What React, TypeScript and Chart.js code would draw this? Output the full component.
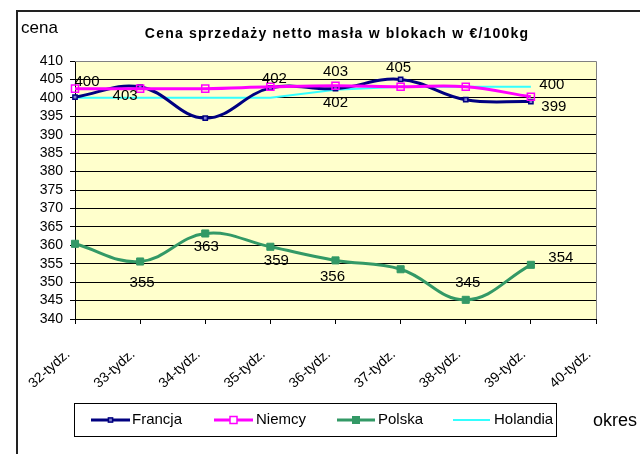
import React, { useEffect, useRef } from "react";
import { Chart, registerables } from "chart.js";

Chart.register(...registerables);

const categories = ["32-tydz.", "33-tydz.", "34-tydz.", "35-tydz.", "36-tydz.", "37-tydz.", "38-tydz.", "39-tydz.", "40-tydz."];
const seriesNames = ["Francja", "Niemcy", "Polska", "Holandia"];
const francja = [400.2, 403, 394.5, 402.7, 402.5, 405, 399.5, 399, null];
const niemcy = [402.5, 402.5, 402.5, 403, 403.3, 403, 403, 400.3, null];
const polska = [360.4, 355.6, 363.2, 359.6, 355.9, 353.5, 345.2, 354.7, null];
const holandia = [400, 400, 400, 400, 402.2, 403, 403, 403, null];

const francjaLabels = ["400", "403", null, "402", "402", "405", null, "399", null];
const niemcyLabels = [null, null, null, null, "403", null, null, "400", null];
const polskaLabels = [null, "355", "363", "359", "356", null, "345", "354", null];

const yMin = 340;
const yMax = 410;
const yStep = 5;

const FONT = "'Liberation Sans', Arial, sans-serif";

// label offsets (style only)
const labelOffsets: Record<string, ([number, number] | null)[]> = {
  Francja: [[12, -15], [-15, 9], null, [4, -9], [0, 14], [-2, -12], null, [23, 5], null],
  Niemcy: [null, null, null, null, [0, -14], null, null, [21, -12], null],
  Polska: [null, [2, 21], [1, 13], [6, 14], [-3, 16], null, [2, -17], [30, -7], null],
};

const decorPlugin = {
  id: "decor",
  beforeDraw(chart: any) {
    const { ctx, chartArea } = chart;
    ctx.save();
    ctx.fillStyle = "#ffffff";
    ctx.fillRect(0, 0, chart.width, chart.height);
    ctx.fillStyle = "#FFFFCC";
    ctx.fillRect(chartArea.left, chartArea.top, chartArea.right - chartArea.left, chartArea.bottom - chartArea.top);
    ctx.restore();
  },
  afterDraw(chart: any) {
    const { ctx, chartArea } = chart;
    ctx.save();
    // plot border (top/right)
    ctx.strokeStyle = "#808080";
    ctx.lineWidth = 1;
    ctx.beginPath();
    ctx.moveTo(chartArea.left, Math.round(chartArea.top) + 0.5);
    ctx.lineTo(Math.round(chartArea.right) + 0.5, Math.round(chartArea.top) + 0.5);
    ctx.lineTo(Math.round(chartArea.right) + 0.5, chartArea.bottom);
    ctx.stroke();
    // outer frame
    ctx.strokeStyle = "#222222";
    ctx.lineWidth = 2;
    ctx.beginPath();
    ctx.moveTo(17, 470);
    ctx.lineTo(17, 11);
    ctx.lineTo(660, 11);
    ctx.stroke();
    // title
    ctx.fillStyle = "#000";
    ctx.textBaseline = "middle";
    ctx.textAlign = "center";
    ctx.font = `bold 14px ${FONT}`;
    (ctx as any).letterSpacing = "1.2px";
    ctx.fillText("Cena sprzedaży netto masła w blokach w €/100kg", 337, 34);
    (ctx as any).letterSpacing = "0px";
    // axis titles
    ctx.textAlign = "left";
    ctx.font = `17px ${FONT}`;
    ctx.fillText("cena", 21, 28);
    ctx.font = `18px ${FONT}`;
    ctx.fillText("okres", 593, 421);
    // legend
    ctx.fillStyle = "#ffffff";
    ctx.fillRect(74.5, 403.5, 482, 33);
    ctx.strokeStyle = "#000";
    ctx.lineWidth = 1;
    ctx.strokeRect(74.5, 403.5, 482, 33);
    const items = [
      { x0: 91, x1: 130, tx: 132 },
      { x0: 214, x1: 253, tx: 256 },
      { x0: 337, x1: 375, tx: 378 },
      { x0: 453, x1: 490, tx: 494 },
    ];
    const ly = 420;
    chart.data.datasets.forEach((ds: any, i: number) => {
      const it = items[i];
      ctx.strokeStyle = ds.borderColor;
      ctx.lineWidth = ds.borderWidth;
      ctx.beginPath();
      ctx.moveTo(it.x0, ly);
      ctx.lineTo(it.x1, ly);
      ctx.stroke();
      if (ds.pointRadius > 0) {
        const r = ds.pointRadius;
        const cx = (it.x0 + it.x1) / 2;
        ctx.fillStyle = ds.pointBackgroundColor === "rgba(0,0,0,0)" ? "#ffffff" : ds.pointBackgroundColor;
        ctx.fillRect(cx - r * 0.7, ly - r * 0.7, r * 1.4, r * 1.4);
        ctx.strokeStyle = ds.pointBorderColor;
        ctx.lineWidth = ds.pointBorderWidth;
        ctx.strokeRect(cx - r * 0.7, ly - r * 0.7, r * 1.4, r * 1.4);
      }
      ctx.fillStyle = "#000";
      ctx.font = `15px ${FONT}`;
      ctx.textAlign = "left";
      ctx.textBaseline = "middle";
      ctx.fillText(ds.label, it.tx, ly);
    });
    ctx.restore();
  },
  afterDatasetsDraw(chart: any) {
    const { ctx } = chart;
    ctx.save();
    ctx.fillStyle = "#000";
    ctx.font = `15px ${FONT}`;
    ctx.textAlign = "center";
    ctx.textBaseline = "middle";
    chart.data.datasets.forEach((ds: any, di: number) => {
      const labels = ds.valueLabels as (string | null)[] | undefined;
      if (!labels) return;
      const offs = labelOffsets[ds.label] || [];
      const meta = chart.getDatasetMeta(di);
      labels.forEach((t, i) => {
        if (!t) return;
        const el = meta.data[i];
        const off = offs[i] || [0, -12];
        ctx.fillText(t, el.x + off[0], el.y + off[1]);
      });
    });
    ctx.restore();
  },
};

export default function App() {
  const ref = useRef<HTMLCanvasElement>(null);
  useEffect(() => {
    if (!ref.current) return;
    const chart = new Chart(ref.current, {
      type: "line",
      data: {
        labels: categories,
        datasets: [
          {
            label: seriesNames[0],
            data: francja,
            valueLabels: francjaLabels,
            borderColor: "#000080",
            borderWidth: 3,
            pointStyle: "rect",
            pointRadius: 3,
            pointBackgroundColor: "#7f7fcc",
            pointBorderColor: "#000080",
            pointBorderWidth: 1.5,
            tension: 0.4,
            order: 1,
          } as any,
          {
            label: seriesNames[1],
            data: niemcy,
            valueLabels: niemcyLabels,
            borderColor: "#FF00FF",
            borderWidth: 3,
            pointStyle: "rect",
            pointRadius: 5,
            pointBackgroundColor: "rgba(0,0,0,0)",
            pointBorderColor: "#FF00FF",
            pointBorderWidth: 1.5,
            tension: 0.4,
            order: 0,
          } as any,
          {
            label: seriesNames[2],
            data: polska,
            valueLabels: polskaLabels,
            borderColor: "#339966",
            borderWidth: 3,
            pointStyle: "rect",
            pointRadius: 5,
            pointBackgroundColor: "#339966",
            pointBorderColor: "#339966",
            pointBorderWidth: 1,
            tension: 0.4,
            order: 2,
          } as any,
          {
            label: seriesNames[3],
            data: holandia,
            borderColor: "#33FFFF",
            borderWidth: 2,
            pointRadius: 0,
            tension: 0,
            order: 3,
          } as any,
        ],
      },
      options: {
        responsive: false,
        animation: false,
        layout: { padding: { left: 16, top: 61, right: 44, bottom: 55 } },
        plugins: { legend: { display: false }, title: { display: false }, tooltip: { enabled: false } },
        scales: {
          x: {
            type: "category",
            offset: false,
            afterFit: (s: any) => { s.height = 80; },
            grid: { drawOnChartArea: false, drawTicks: true, tickLength: 5, color: "#000" },
            border: { color: "#000", width: 1 },
            ticks: {
              autoSkip: false,
              maxRotation: 42,
              minRotation: 42,
              color: "#000",
              font: { family: FONT, size: 14 },
              padding: 22,
              labelOffset: -7,
            },
          },
          y: {
            min: yMin,
            max: yMax,
            afterFit: (s: any) => { s.width = 59; },
            grid: { color: "#000", lineWidth: 1, tickLength: 5 },
            border: { color: "#000", width: 1 },
            ticks: {
              stepSize: yStep,
              autoSkip: false,
              maxTicksLimit: 30,
              color: "#000",
              font: { family: FONT, size: 14 },
              padding: 7,
            },
          },
        },
      } as any,
      plugins: [decorPlugin],
    });
    return () => chart.destroy();
  }, []);
  return (
    <div style={{ position: "fixed", left: 0, top: 0, width: 640, height: 454, background: "#fff" }}>
      <canvas ref={ref} width={640} height={454} />
    </div>
  );
}
